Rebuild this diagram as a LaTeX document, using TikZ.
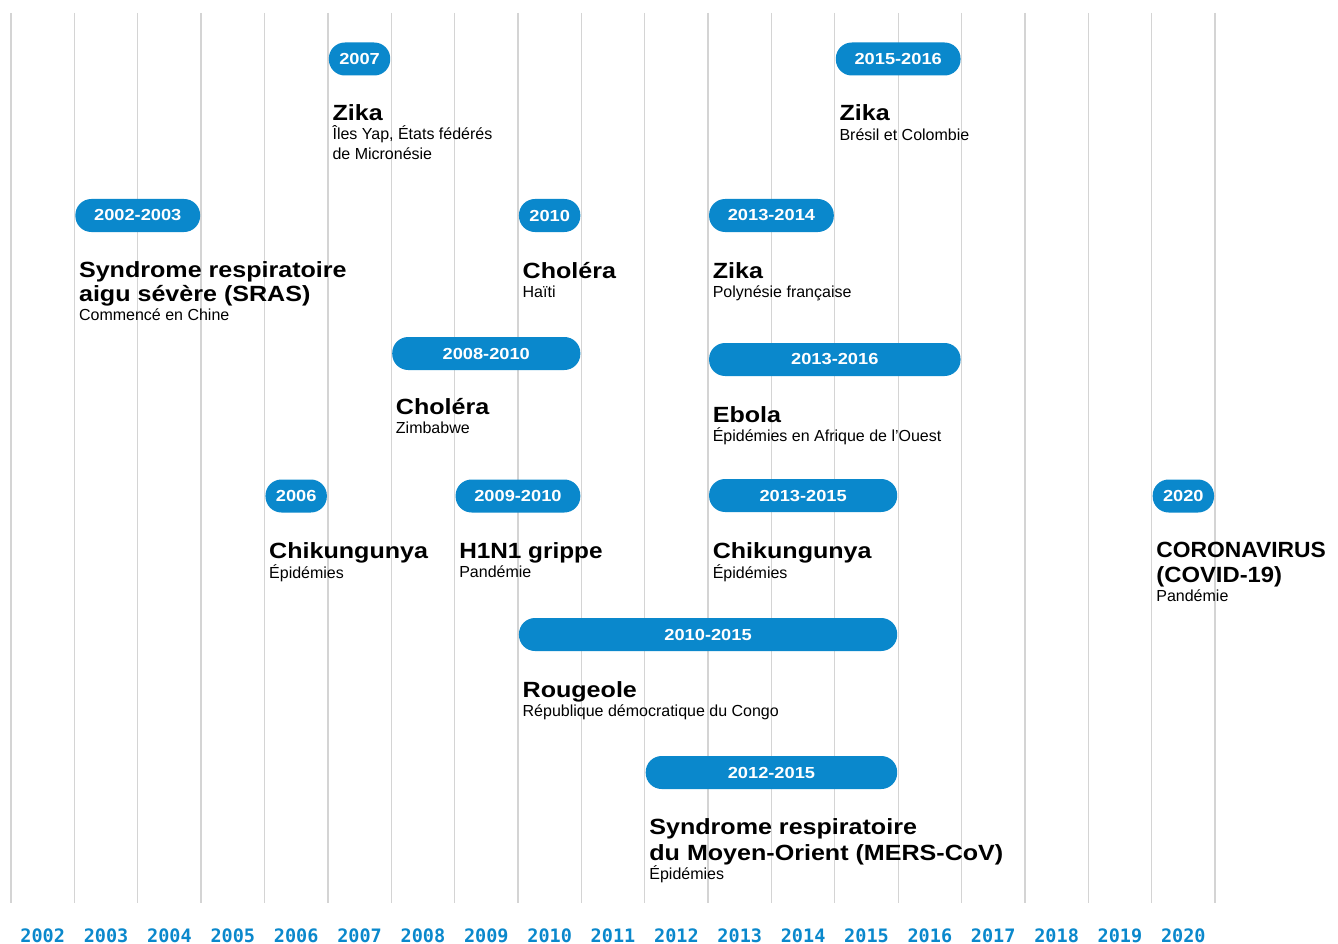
\documentclass[tikz,border=0pt]{standalone}
\usepackage{fontspec}
\setmainfont{Liberation Sans}
\newfontfamily\evttl[FakeStretch=1.14]{Liberation Sans}
\newfontfamily\evyr{DejaVu Sans Mono}
\definecolor{evblue}{HTML}{0A88CC}
\definecolor{gridgray}{HTML}{D4D4D4}
\tikzset{
  pill/.style={fill=evblue, rounded corners=16pt, minimum height=33pt, inner sep=0pt, text=white, font=\evttl\bfseries\fontsize{16}{16}\selectfont},
  ttlline/.style={anchor=base west, inner sep=0pt, font=\evttl\bfseries\fontsize{22}{25}\selectfont},
  subline/.style={anchor=base west, inner sep=0pt, font=\fontsize{16}{20}\selectfont},
  yrlbl/.style={anchor=base, inner sep=0pt, text=evblue, font=\evyr\bfseries\fontsize{18.5}{18.5}\selectfont},
  gridln/.style={draw=gridgray, line width=1.3pt}
}
\newcommand\evpill[5]{%
  \pgfmathsetmacro\evxa{11+63.37*#2+1}%
  \pgfmathsetmacro\evxb{11+63.37*#3-1}%
  \pgfmathsetmacro\evxc{(\evxa+\evxb)/2}%
  \pgfmathsetmacro\evpw{\evxb-\evxa}%
  \node[pill, minimum width=\evpw pt] (#1) at (\evxc,#4) {#5};}
\newcommand\evtx[1]{\pgfmathsetmacro\evx{11+63.37*#1+4.5}}
\begin{document}
\begin{tikzpicture}[x=1pt,y=-1pt]
\fill[white] (0,0) rectangle (1338,944);
\useasboundingbox (0,0) rectangle (1338,944);
% grid lines
\foreach \i in {0,...,19}{
  \pgfmathsetmacro\gx{11+63.37*\i}
  \coordinate (gt\i) at (\gx,13);
  \coordinate (gb\i) at (\gx,903);
  \draw[gridln] (gt\i) -- (gb\i);
}
% year labels
\foreach \y [count=\k from 0] in {2002,...,2020}{
  \pgfmathsetmacro\lx{11+63.37*(\k+0.5)}
  \node[yrlbl] (yr\y) at (\lx,942) {\y};
}
% bars
\evpill{b2007}{5}{6}{59}{2007}
\evpill{b2015}{13}{15}{59}{2015-2016}
\evpill{b2002}{1}{3}{215.5}{2002-2003}
\evpill{b2010}{8}{9}{215.5}{2010}
\evpill{b2013a}{11}{13}{215.5}{2013-2014}
\evpill{b2008}{6}{9}{353.5}{2008-2010}
\evpill{b2013b}{11}{15}{359.5}{2013-2016}
\evpill{b2006}{4}{5}{496}{2006}
\evpill{b2009}{7}{9}{496}{2009-2010}
\evpill{b2013c}{11}{14}{495.5}{2013-2015}
\evpill{b2020}{18}{19}{496}{2020}
\evpill{b2010b}{8}{14}{634.5}{2010-2015}
\evpill{b2012}{10}{14}{772.5}{2012-2015}
% texts
\evtx{5}
\node[ttlline] (t1) at (\evx,121) {Zika};
\node[subline] (s1a) at (\evx,140) {Îles Yap, États fédérés};
\node[subline] (s1b) at (\evx,160) {de Micronésie};
\evtx{13}
\node[ttlline] (t2) at (\evx,121) {Zika};
\node[subline] (s2) at (\evx,141) {Brésil et Colombie};
\evtx{1}
\node[ttlline] (t3a) at (\evx,277) {Syndrome respiratoire};
\node[ttlline] (t3b) at (\evx,301.5) {aigu sévère (SRAS)};
\node[subline] (s3) at (\evx,320) {Commencé en Chine};
\evtx{8}
\node[ttlline] (t4) at (\evx,278) {Choléra};
\node[subline] (s4) at (\evx,297) {Haïti};
\evtx{11}
\node[ttlline] (t5) at (\evx,278) {Zika};
\node[subline] (s5) at (\evx,297) {Polynésie française};
\evtx{6}
\node[ttlline] (t6) at (\evx,414) {Choléra};
\node[subline] (s6) at (\evx,433) {Zimbabwe};
\evtx{11}
\node[ttlline] (t7) at (\evx,422) {Ebola};
\node[subline] (s7) at (\evx,441) {Épidémies en Afrique de l'Ouest};
\evtx{4}
\node[ttlline] (t8) at (\evx,558) {Chikungunya};
\node[subline] (s8) at (\evx,578) {Épidémies};
\evtx{7}
\node[ttlline] (t9) at (\evx,558) {\scalebox{0.97}[1]{H1N1 grippe}};
\node[subline] (s9) at (\evx,577) {Pandémie};
\evtx{11}
\node[ttlline] (t10) at (\evx,558) {Chikungunya};
\node[subline] (s10) at (\evx,578) {Épidémies};
\evtx{18}
\node[ttlline] (t11a) at (\evx,557) {\scalebox{0.91}[1]{CORONAVIRUS}};
\node[ttlline] (t11b) at (\evx,582) {\scalebox{0.95}[1]{(COVID-19)}};
\node[subline] (s11) at (\evx,601) {Pandémie};
\evtx{8}
\node[ttlline] (t12) at (\evx,697) {Rougeole};
\node[subline] (s12) at (\evx,716) {République démocratique du Congo};
\evtx{10}
\node[ttlline] (t13a) at (\evx,834) {Syndrome respiratoire};
\node[ttlline] (t13b) at (\evx,860) {du Moyen-Orient (MERS-CoV)};
\node[subline] (s13) at (\evx,879) {Épidémies};
\end{tikzpicture}
\end{document}
